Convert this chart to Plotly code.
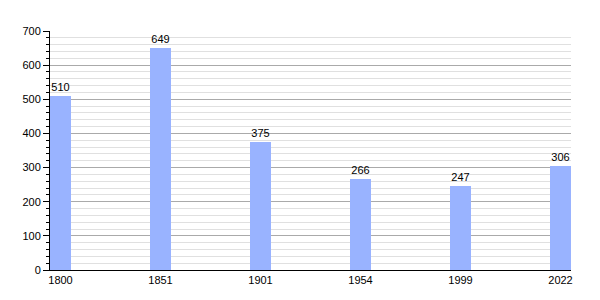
import plotly.graph_objects as go

years = ["1800", "1851", "1901", "1954", "1999", "2022"]
population = [510, 649, 375, 266, 247, 306]
y_ticks = [0, 100, 200, 300, 400, 500, 600, 700]

fig = go.Figure()
fig.add_trace(go.Bar(
    x=list(range(len(years))), y=population,
    width=0.21,
    marker=dict(color="#99b3ff", line=dict(width=0)),
    text=[str(v) for v in population], textposition="outside",
    textfont=dict(family="Liberation Sans, Arial", size=11, color="#000"),
    cliponaxis=False,
))
fig.update_layout(
    width=600, height=300,
    margin=dict(l=50, r=29, t=31, b=30),
    plot_bgcolor="white", paper_bgcolor="white",
    showlegend=False,
    font=dict(family="Liberation Sans, Arial", size=11, color="#000"),
    bargap=0,
)
fig.update_xaxes(
    range=[-0.105, 5.105],
    tickmode="array", tickvals=list(range(len(years))), ticktext=years,
    showgrid=False, showline=True, linecolor="#000", linewidth=1,
    ticks="", zeroline=False, fixedrange=True,
)
fig.update_yaxes(
    range=[0, 700],
    tickmode="array", tickvals=y_ticks,
    showgrid=True, gridcolor="#aaaaaa", gridwidth=1,
    showline=True, linecolor="#000", linewidth=1,
    ticks="outside", ticklen=6, tickcolor="#000",
    minor=dict(dtick=20, showgrid=True, gridcolor="#e0e0e0", ticks="outside", ticklen=3, tickcolor="#000"),
    zeroline=False, fixedrange=True,
)
fig.write_html("out.html")
